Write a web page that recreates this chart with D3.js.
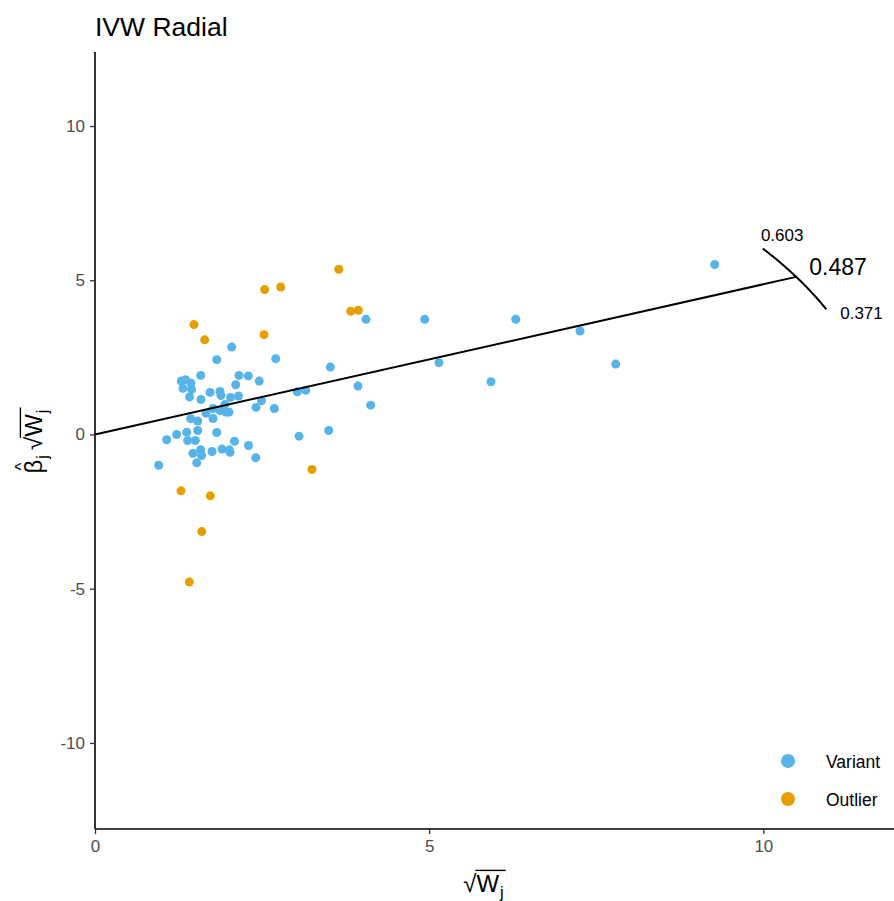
<!DOCTYPE html>
<html>
<head>
<meta charset="utf-8">
<script src="https://cdn.jsdelivr.net/npm/d3@7"></script>
<style>
  body { margin: 0; background: #fff; }
  text { font-family: "Liberation Sans", Arial, sans-serif; }
</style>
</head>
<body>
<svg id="chart" width="894" height="901"></svg>
<script>
// ---- data ----
const variantX = [0.953,1.073,1.223,1.291,1.317,1.354,1.372,1.387,1.432,1.436,1.444,1.414,1.466,1.522,1.537,1.537,1.501,1.582,1.586,1.582,1.594,1.661,1.721,1.751,1.766,1.766,1.821,1.821,1.870,1.885,1.870,1.900,1.960,2.005,2.010,2.020,2.028,2.045,2.087,2.105,2.147,2.155,2.294,2.297,2.405,2.409,2.458,2.491,2.683,2.704,3.027,3.153,3.053,3.497,3.521,3.935,4.055,4.125,4.933,5.147,5.925,6.295,7.257,7.791,9.273,1.945];
const variantY = [-0.997,-0.172,0.000,1.731,1.494,1.776,0.075,-0.195,0.513,1.666,1.461,1.218,-0.607,-0.919,0.438,0.130,-0.195,1.916,1.136,-0.494,-0.682,0.692,1.364,-0.552,0.519,0.844,2.425,0.065,1.396,1.260,0.779,-0.474,0.724,0.724,-0.497,-0.575,1.201,2.834,-0.221,1.614,1.247,1.916,1.899,-0.357,-0.756,0.877,1.731,1.094,0.844,2.458,1.386,1.438,-0.055,0.130,2.185,1.568,3.734,0.951,3.734,2.328,1.711,3.734,3.354,2.282,5.510,0.974];
const outlierX = [3.647,2.539,2.779,3.826,3.940,1.481,2.529,1.641,3.247,1.287,1.725,1.597,1.411];
const outlierY = [5.357,4.698,4.782,3.994,4.026,3.562,3.237,3.068,-1.136,-1.828,-1.990,-3.149,-4.782];
const ivwSlope = 0.487, ciLow = 0.371, ciHigh = 0.603;
const arcRadius = 11.67;
const xTicks = [0, 5, 10];
const yTicks = [-10, -5, 0, 5, 10];
const legendLabels = ["Variant", "Outlier"];
const colors = { Variant: "#56B4E9", Outlier: "#E69F00" };

// ---- layout ----
const svg = d3.select("#chart");
const x = d3.scaleLinear().domain([0, 11.955]).range([95, 894]);
const y = d3.scaleLinear().domain([-12.79, 12.40]).range([829, 52]);

// title
svg.append("text").attr("x", 95).attr("y", 36)
  .attr("font-size", 26.5).attr("fill", "#000").text("IVW Radial");

// axes
const xAxis = svg.append("g").attr("transform", "translate(0,829)")
  .call(d3.axisBottom(x).tickValues(xTicks).tickSize(5).tickPadding(6).tickFormat(d3.format("d")));
const yAxis = svg.append("g").attr("transform", "translate(95,0)")
  .call(d3.axisLeft(y).tickValues(yTicks).tickSize(5).tickPadding(5).tickFormat(d => d < 0 ? "-" + Math.abs(d) : d));
[xAxis, yAxis].forEach(a => {
  a.select(".domain").attr("stroke", "#000").attr("stroke-width", 1.6);
  a.selectAll(".tick line").attr("stroke", "#333").attr("stroke-width", 1.3);
  a.selectAll(".tick text").attr("fill", "#4D4D4D").attr("font-size", 17)
    .attr("font-family", "Liberation Sans, Arial, sans-serif");
});
xAxis.select(".domain").attr("d", `M${x.range()[0]},0H${x.range()[1]}`);
yAxis.select(".domain").attr("d", `M0,${y.range()[0]}V${y.range()[1]}`);

// points
const pts = svg.append("g");
pts.selectAll("circle.v").data(variantX.map((d, i) => [d, variantY[i]])).enter()
  .append("circle").attr("class", "v")
  .attr("cx", d => x(d[0])).attr("cy", d => y(d[1])).attr("r", 4.5)
  .attr("fill", colors.Variant);
pts.selectAll("circle.o").data(outlierX.map((d, i) => [d, outlierY[i]])).enter()
  .append("circle").attr("class", "o")
  .attr("cx", d => x(d[0])).attr("cy", d => y(d[1])).attr("r", 4.5)
  .attr("fill", colors.Outlier);

// IVW line from origin to arc
const thMain = Math.atan(ivwSlope);
const lineEnd = [arcRadius * Math.cos(thMain), arcRadius * Math.sin(thMain)];
const lineGen = d3.line().x(d => x(d[0])).y(d => y(d[1]));
svg.append("path").attr("d", lineGen([[0, 0], lineEnd]))
  .attr("stroke", "#000").attr("stroke-width", 2).attr("fill", "none");

// arc for CI
const th1 = Math.atan(ciLow), th2 = Math.atan(ciHigh);
const arcPts = d3.range(0, 41).map(i => {
  const t = th1 + (th2 - th1) * i / 40;
  return [arcRadius * Math.cos(t), arcRadius * Math.sin(t)];
});
svg.append("path").attr("d", lineGen(arcPts))
  .attr("stroke", "#000").attr("stroke-width", 2).attr("fill", "none");

// labels on arc
const hiEnd = arcPts[arcPts.length - 1], loEnd = arcPts[0];
svg.append("text").attr("x", x(hiEnd[0]) - 2).attr("y", y(hiEnd[1]) - 7.5)
  .attr("font-size", 17).text(ciHigh.toFixed(3));
svg.append("text").attr("x", x(loEnd[0]) + 14).attr("y", y(loEnd[1]) + 9.5)
  .attr("font-size", 17).text(ciLow.toFixed(3));
svg.append("text").attr("x", x(lineEnd[0]) + 13).attr("y", y(lineEnd[1]) - 1.5)
  .attr("font-size", 23).text(ivwSlope.toFixed(3));

// legend
const leg = svg.append("g");
legendLabels.forEach((lab, i) => {
  const cy = 761 + i * 38;
  leg.append("circle").attr("cx", 788).attr("cy", cy).attr("r", 7).attr("fill", colors[lab]);
  leg.append("text").attr("x", 826).attr("y", cy + 7).attr("font-size", 17.5).attr("fill", "#000").text(lab);
});

// math axis label builder
function mathLabel(g, parts, fs) {
  let cx = 0;
  parts.forEach(p => {
    let start = cx;
    if (p.sqrt) {
      const s = g.append("text").attr("x", cx).attr("y", 0).attr("font-size", fs).text("\u221A");
      cx += s.node().getComputedTextLength();
      start = cx;
    }
    const m = g.append("text").attr("x", cx).attr("y", 0).attr("font-size", fs).text(p.t);
    const mw = m.node().getComputedTextLength();
    if (p.hat) {
      g.append("text").attr("x", cx + mw / 2).attr("y", -fs * 0.62)
        .attr("text-anchor", "middle").attr("font-size", fs * 0.7).text("^");
    }
    cx += mw;
    if (p.sub) {
      const sb = g.append("text").attr("x", cx + 1).attr("y", fs * 0.25).attr("font-size", fs * 0.7).text(p.sub);
      cx += sb.node().getComputedTextLength() + 2;
    }
    if (p.sqrt) {
      g.append("line").attr("x1", start - 1).attr("x2", cx + 1)
        .attr("y1", -fs * 0.9).attr("y2", -fs * 0.9)
        .attr("stroke", "#000").attr("stroke-width", 1.4);
    }
    if (p.gap) cx += p.gap;
  });
  return cx;
}

// x label
const xl = svg.append("g");
const xw = mathLabel(xl, [{ sqrt: true, t: "W", sub: "j" }], 24);
xl.attr("transform", `translate(${484 - xw / 2},892)`);

// y label
const yl = svg.append("g");
const yw = mathLabel(yl, [{ t: "\u03B2", hat: true, sub: "j", gap: 4 }, { sqrt: true, t: "W", sub: "j" }], 24);
yl.attr("transform", `translate(42,${441 + yw / 2}) rotate(-90)`);
</script>
</body>
</html>
